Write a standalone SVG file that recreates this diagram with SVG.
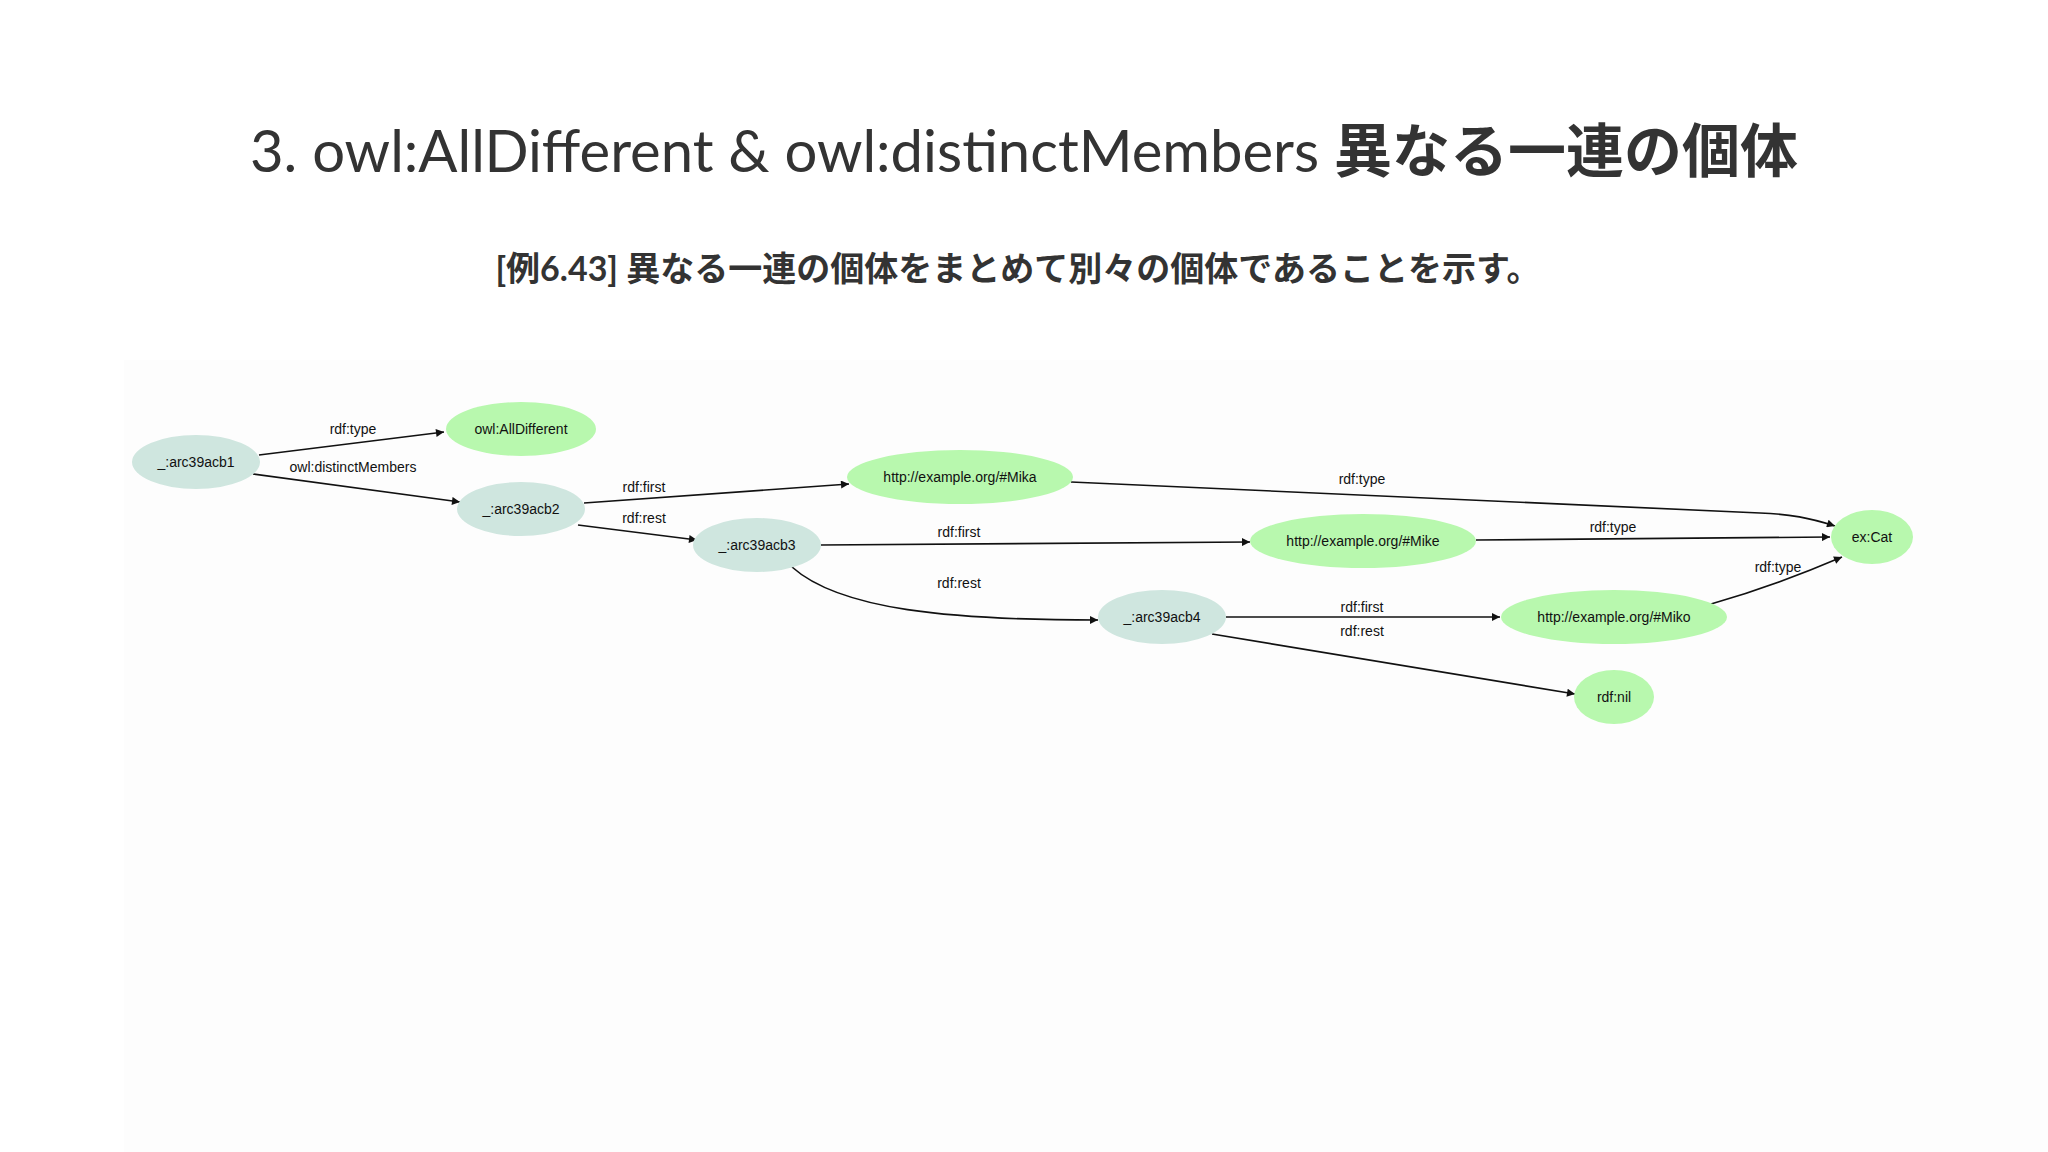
<svg xmlns="http://www.w3.org/2000/svg" width="2048" height="1152" viewBox="0 0 2048 1152">
<style>
.t{font-family:"Liberation Sans",Arial,sans-serif;font-size:14px;fill:#111;text-anchor:middle}
.b{fill:#cfe6df}
.g{fill:#b8f8ae}
.e{fill:none;stroke:#111;stroke-width:1.6}
</style>
<defs><marker id="a" viewBox="0 0 10 10" refX="10" refY="5" markerWidth="10" markerHeight="8" markerUnits="userSpaceOnUse" orient="auto"><path d="M0,0L10,5L0,10z" fill="#111"/></marker></defs>
<rect width="2048" height="1152" fill="#fff"/>
<rect x="124" y="360" width="1924" height="792" fill="#fdfdfd"/>
<text x="1024" y="172" font-family="Lato,'Noto Sans CJK JP',sans-serif" font-size="58" fill="#333" text-anchor="middle">3. owl:AllDifferent &amp; owl:distinctMembers <tspan font-weight="bold">異なる一連の個体</tspan></text>
<text x="1018" y="281" font-family="Lato,'Noto Sans CJK JP',sans-serif" font-size="34" font-weight="bold" fill="#333" text-anchor="middle">[例6.43] 異なる一連の個体をまとめて別々の個体であることを示す。</text>
<g id="connectors">
<path class="e" marker-end="url(#a)" d="M259,455L444,432"/>
<path class="e" marker-end="url(#a)" d="M253,474L460,502"/>
<path class="e" marker-end="url(#a)" d="M584,503L849,484"/>
<path class="e" marker-end="url(#a)" d="M578,525L697,540"/>
<path class="e" marker-end="url(#a)" d="M1071,482L1760,513C1790,514 1810,518 1835,526"/>
<path class="e" marker-end="url(#a)" d="M821,545L1250,542"/>
<path class="e" marker-end="url(#a)" d="M1476,540L1830,537"/>
<path class="e" marker-end="url(#a)" d="M792,567C840,610 950,620 1098,620"/>
<path class="e" marker-end="url(#a)" d="M1711,604C1760,590 1800,575 1842,557"/>
<path class="e" marker-end="url(#a)" d="M1226,617L1500,617"/>
<path class="e" marker-end="url(#a)" d="M1212,634L1575,694"/>
<text class="t" x="353" y="434">rdf:type</text>
<text class="t" x="353" y="472">owl:distinctMembers</text>
<text class="t" x="644" y="492">rdf:first</text>
<text class="t" x="644" y="523">rdf:rest</text>
<text class="t" x="1362" y="484">rdf:type</text>
<text class="t" x="959" y="537">rdf:first</text>
<text class="t" x="959" y="588">rdf:rest</text>
<text class="t" x="1613" y="532">rdf:type</text>
<text class="t" x="1778" y="572">rdf:type</text>
<text class="t" x="1362" y="612">rdf:first</text>
<text class="t" x="1362" y="636">rdf:rest</text>
</g>
<g id="n1"><ellipse class="b" cx="196" cy="462" rx="64" ry="27"/><text class="t" x="196" y="467">_:arc39acb1</text></g>
<g id="n2"><ellipse class="g" cx="521" cy="429" rx="75" ry="27"/><text class="t" x="521" y="434">owl:AllDifferent</text></g>
<g id="n3"><ellipse class="b" cx="521" cy="509" rx="64" ry="27"/><text class="t" x="521" y="514">_:arc39acb2</text></g>
<g id="n4"><ellipse class="g" cx="960" cy="477" rx="113" ry="27"/><text class="t" x="960" y="482">http://example.org/#Mika</text></g>
<g id="n5"><ellipse class="b" cx="757" cy="545" rx="64" ry="27"/><text class="t" x="757" y="550">_:arc39acb3</text></g>
<g id="n6"><ellipse class="g" cx="1363" cy="541" rx="113" ry="27"/><text class="t" x="1363" y="546">http://example.org/#Mike</text></g>
<g id="n7"><ellipse class="g" cx="1872" cy="537" rx="41" ry="27"/><text class="t" x="1872" y="542">ex:Cat</text></g>
<g id="n8"><ellipse class="b" cx="1162" cy="617" rx="64" ry="27"/><text class="t" x="1162" y="622">_:arc39acb4</text></g>
<g id="n9"><ellipse class="g" cx="1614" cy="617" rx="113" ry="27"/><text class="t" x="1614" y="622">http://example.org/#Miko</text></g>
<g id="n10"><ellipse class="g" cx="1614" cy="697" rx="40" ry="27"/><text class="t" x="1614" y="702">rdf:nil</text></g>
</svg>
